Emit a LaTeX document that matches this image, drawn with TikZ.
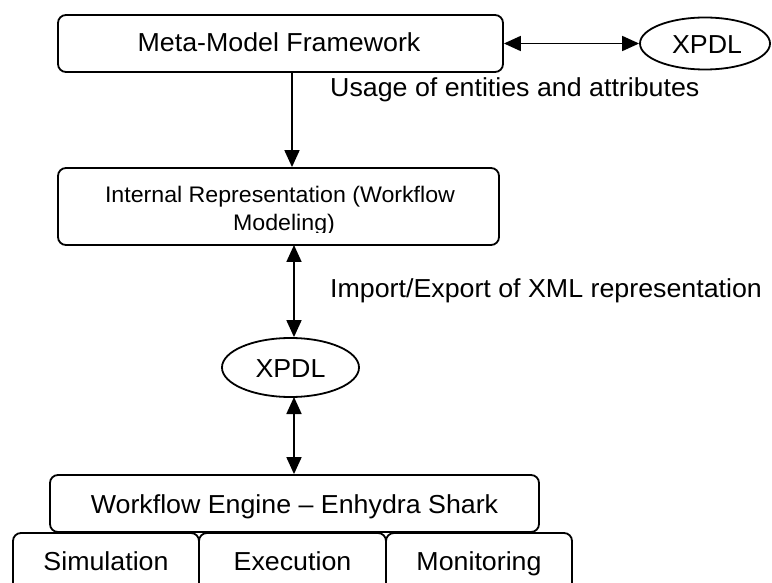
\documentclass[tikz,border=0pt]{standalone}
\usepackage{fontspec}
\setmainfont{Liberation Sans}[FakeStretch=1.03]
\usetikzlibrary{arrows.meta}
\tikzset{
  boxst/.style={draw=black, line width=1.8pt, rounded corners=8pt, inner sep=0pt},
  ellst/.style={draw=black, line width=1.8pt, ellipse, inner sep=0pt},
  txt/.style={inner sep=0pt, anchor=base, font=\fontsize{26}{30}\selectfont},
  smalltxt/.style={inner sep=0pt, anchor=base, font=\fontsize{22.5}{28}\selectfont},
  arr/.style={line width=1.8pt, -{Triangle[length=17pt,width=15pt]}},
  darr/.style={line width=1.8pt, {Triangle[length=17pt,width=15pt]}-{Triangle[length=17pt,width=15pt]}}
}
\usetikzlibrary{shapes.geometric}
\begin{document}
\begin{tikzpicture}[x=1pt,y=-1pt]
\useasboundingbox (0,0) rectangle (772,583);
\clip (0,0) rectangle (772,583);
% top row
\node[boxst, minimum width=445pt, minimum height=57pt] (meta) at (280.5,43.5) {};
\node[txt] (metat) at (279,52) {Meta-Model Framework};
\node[ellst, minimum width=130pt, minimum height=52pt] (xpdla) at (705,43.5) {};
\node[txt] (xpdlat) at (707,54) {XPDL};
\draw[darr] (meta.east) -- (xpdla.west);
% internal representation
\node[boxst, minimum width=441pt, minimum height=77pt] (ir) at (278.5,206.5) {};
\begin{scope}
\clip (60,170) rectangle (497,233);
\node[smalltxt] (irt1) at (280,203) {Internal Representation (Workflow};
\node[smalltxt] (irt2) at (284,231) {Modeling)};
\end{scope}
\coordinate (mb) at (292,72);
\draw[arr] (mb) -- (mb |- ir.north);
\node[txt, anchor=base west] (usage) at (330,97) {Usage of entities and attributes};
% middle XPDL
\node[ellst, minimum width=137pt, minimum height=59pt] (xpdlb) at (290.5,367.5) {};
\node[txt] (xpdlbt) at (290.5,377) {XPDL};
\coordinate (irb) at (294,245);
\draw[darr] (irb) -- (irb |- xpdlb.north);
\node[txt, anchor=base west] (imp) at (330,298) {Import/Export of XML representation};
% engine
\node[boxst, minimum width=489pt, minimum height=57pt] (eng) at (294.5,503.5) {};
\node[txt] (engt) at (294.5,513) {Workflow Engine -- Enhydra Shark};
\coordinate (xb) at (294,397);
\draw[darr] (xb) -- (xb |- eng.north);
% bottom boxes
\node[boxst, minimum width=186pt, minimum height=67pt] (sim) at (106,566.5) {};
\node[boxst, minimum width=187pt, minimum height=67pt] (exe) at (292.5,566.5) {};
\node[boxst, minimum width=186pt, minimum height=67pt] (mon) at (479,566.5) {};
\node[txt] (simt) at (106,570) {Simulation};
\node[txt] (exet) at (292.5,570) {Execution};
\node[txt] (mont) at (479,570) {Monitoring};
\end{tikzpicture}
\end{document}
